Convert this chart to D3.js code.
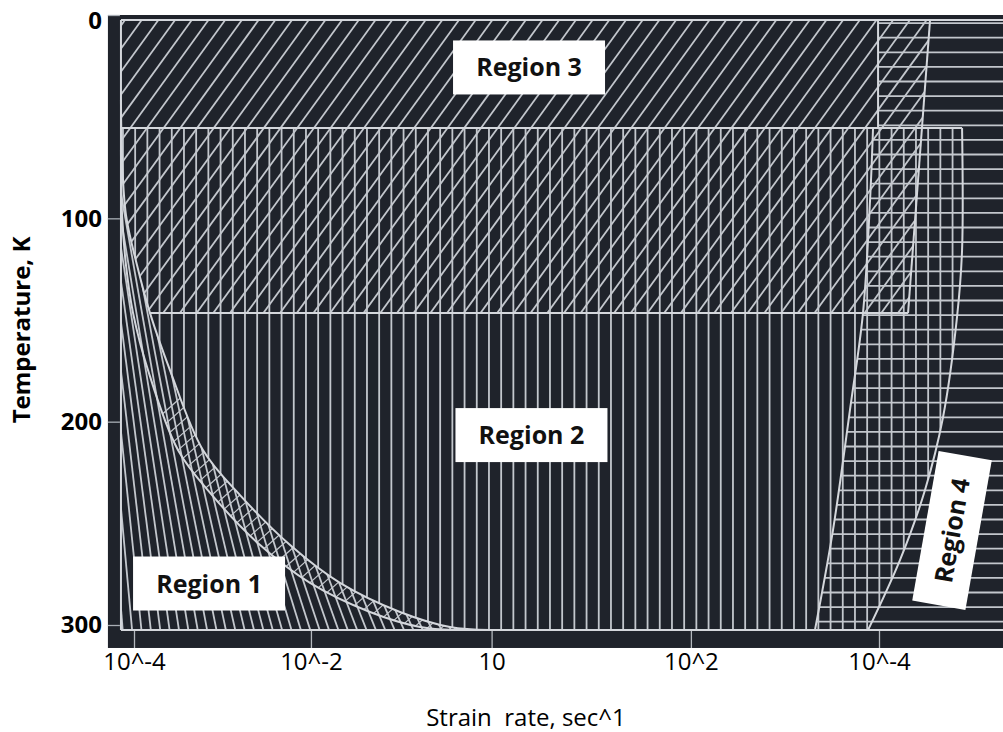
<!DOCTYPE html>
<html>
<head>
<meta charset="utf-8">
<script src="https://cdn.jsdelivr.net/npm/d3@7"></script>
<style>
  body { margin: 0; background: #fff; }
  svg { display: block; }
</style>
</head>
<body>
<svg width="1003" height="732"></svg>
<script>
"use strict";

// axis ticks (x is in "decade" units, labels are as printed)
const tempTicks = [0, 100, 200, 300];
const rateTicks = [0, 0.95, 1.92, 2.99, 4];
const rateLabels = ["10^-4", "10^-2", "10", "10^2", "10^-4"];

// boundaries, [rate, temperature]
const curveA = [[-0.07, 41.8], [-0.064, 71.3], [-0.043, 98.4], [0.016, 123], [0.086, 146.6],
    [0.193, 174.6], [0.37, 213.9], [0.569, 236.1], [0.838, 260.7], [1.106, 279.3],
    [1.428, 293.6], [1.697, 301], [1.911, 302.5]];
const curveB = [[-0.07, 66.4], [-0.064, 98.4], [-0.043, 123], [-0.005, 146.6], [0.075, 174.6],
    [0.236, 213.9], [0.419, 236.1], [0.677, 260.7], [0.945, 279.3], [1.267, 293.6],
    [1.536, 301], [1.723, 302.5]];
const rightCurve = [[4.446, 55.6], [4.446, 115.6], [4.419, 148.5], [4.344, 197.7],
    [4.247, 233.6], [4.113, 268], [3.941, 302.5]];
const leftCurve = [[3.656, 302.5], [3.753, 253.3], [3.844, 194.3], [3.914, 146.6],
    [3.952, 91], [3.968, 55.6]];
const region3Edge = [[4.274, 2.5], [4.156, 146.6]];
const bandTemps = [2.5, 55.6, 146.6, 302.5];   // top frame, upper line, lower line, bottom frame
const region4Top = 3.995;
const fanOrigin = [-0.39, -79];

const regionLabels = [
    {name: "Region 3", u: 2.121, t: 25.8, angle: 0},
    {name: "Region 2", u: 2.134, t: 206.6, angle: 0},
    {name: "Region 1", u: 0.403, t: 279.6, angle: 0},
    {name: "Region 4", u: 4.392, t: 253.5, angle: -80}
];

window.addEventListener("load", draw);

function draw() {
    const svg = d3.select("svg");
    const x = d3.scaleLinear().domain([0, 4]).range([134, 879]);
    const y = d3.scaleLinear().domain([0, 300]).range([15, 625]);

    const u0 = -0.07, u1 = 4.666;
    const [tTop, tMid1, tMid2, tBot] = bandTemps;
    const lineCol = "#c3c7cd";

    // dark plot area
    svg.append("rect")
        .attr("x", x(-0.14)).attr("y", y(0))
        .attr("width", x(u1) - x(-0.14)).attr("height", y(311.3) - y(0))
        .attr("fill", "#1f232b");

    const smooth = d3.line().x(d => x(d[0])).y(d => y(d[1])).curve(d3.curveCatmullRom.alpha(0.5));
    const straight = d3.line().x(d => x(d[0])).y(d => y(d[1]));
    const joinPath = parts => parts.map((p, i) => i ? p.replace(/^M/, "L") : p).join("") + "Z";

    const polys = {
        r1: joinPath([smooth(curveA), straight([[1.911, tBot], [u0, tBot]])]),
        band: joinPath([smooth(curveA), smooth(curveB.slice().reverse())]),
        r2: joinPath([straight([[u0, tMid1], rightCurve[0]]), smooth(rightCurve),
            smooth(curveA.slice(1).reverse())]),
        r3: joinPath([straight([[u0, tTop], region3Edge[0], region3Edge[1], [0.086, tMid2]]),
            smooth(curveA.slice(0, 5).reverse())]),
        r4: joinPath([smooth(leftCurve), straight([[3.968, tMid1], [region4Top, tMid1],
            [region4Top, tTop], [u1, tTop], [u1, tBot]])])
    };

    const defs = svg.append("defs");
    Object.entries(polys).forEach(([id, d]) => {
        defs.append("clipPath").attr("id", "clip-" + id).append("path").attr("d", d);
    });

    const X0 = x(u0), X1 = x(u1), Y0 = y(tTop), Y1 = y(tBot), H = Y1 - Y0;

    function hatch(id, segs, width) {
        svg.append("g")
            .attr("clip-path", `url(#clip-${id})`)
            .selectAll("line")
            .data(segs)
            .join("line")
                .attr("x1", d => d[0]).attr("y1", d => d[1])
                .attr("x2", d => d[2]).attr("y2", d => d[3])
                .attr("stroke", lineCol)
                .attr("stroke-width", width || 1.8);
    }

    // region 3: "/" diagonals
    const run = H / 1.38;
    hatch("r3", d3.range(X0 - run + 4, X1 + 20, 16.7).map(a => [a, Y1, a + run, Y0]));
    // region 2: verticals
    hatch("r2", d3.range(X0 + 2, X1, 12.2).map(a => [a, Y0, a, Y1]));
    // region 4: horizontals
    hatch("r4", d3.range(Y0 + 3, Y1, 14.6).map(b => [X0, b, X1, b]));
    // region 1: fan of lines
    const fx = x(fanOrigin[0]), fy = y(fanOrigin[1]);
    hatch("r1", d3.range(95, 560, 9.5).map(a => [fx, fy, a, Y1 + 10]));
    // sparse cross hatch inside the curved band
    hatch("band", d3.range(X0 - 200, 520, 14).map(a => [a, Y1, a + 380, Y1 - 340]), 1.2);

    // outlines
    const outlines = [
        straight([[u0, tTop], [u1, tTop]]),
        straight([[u0, tTop], [u0, tBot]]),
        straight([[u0, tBot], [u1, tBot]]),
        straight([[u0, tMid1], rightCurve[0]]),
        straight([[0.086, tMid2], region3Edge[1]]),
        straight(region3Edge),
        straight([[region4Top, tTop], [region4Top, tMid1], [3.968, tMid1]]),
        smooth(leftCurve),
        smooth(rightCurve),
        smooth(curveA),
        smooth(curveB)
    ];
    svg.append("g").selectAll("path")
        .data(outlines)
        .join("path")
            .attr("d", d => d)
            .attr("fill", "none")
            .attr("stroke", "#d4d7dc")
            .attr("stroke-width", 2);

    // axes
    const yAxis = svg.append("g")
        .attr("transform", `translate(${x(-0.14)},0)`)
        .call(d3.axisLeft(y).tickValues(tempTicks).tickSizeInner(-12).tickSizeOuter(0).tickPadding(6));
    yAxis.select(".domain").remove();
    yAxis.selectAll(".tick line").attr("stroke", "#a9aeb5").attr("stroke-width", 1.3);
    yAxis.selectAll("text")
        .attr("font-family", "'Open Sans', sans-serif")
        .attr("font-weight", 700).attr("font-size", 24).attr("fill", "#000");
    yAxis.selectAll(".tick text").filter(d => d === 0).attr("dy", "0.58em");

    const xAxis = svg.append("g")
        .attr("transform", `translate(0,${y(311.3)})`)
        .call(d3.axisBottom(x).tickValues(rateTicks).tickFormat((d, i) => rateLabels[i])
            .tickSizeInner(-17).tickSizeOuter(0).tickPadding(5));
    xAxis.select(".domain").remove();
    xAxis.selectAll(".tick line").attr("stroke", "#b3b8be").attr("stroke-width", 1.3);
    xAxis.selectAll("text")
        .attr("font-family", "'Open Sans', sans-serif")
        .attr("font-size", 24).attr("fill", "#000");

    svg.append("text")
        .attr("x", 526).attr("y", 726)
        .attr("text-anchor", "middle")
        .attr("font-family", "'Open Sans', sans-serif")
        .attr("font-size", 24)
        .style("white-space", "pre")
        .text("Strain  rate, sec^1");

    svg.append("text")
        .attr("transform", "translate(30,330) rotate(-90)")
        .attr("text-anchor", "middle")
        .attr("font-family", "'Open Sans', sans-serif")
        .attr("font-weight", 700)
        .attr("font-size", 24)
        .text("Temperature, K");

    // region labels on white boxes
    const lab = svg.append("g").selectAll("g")
        .data(regionLabels)
        .join("g")
            .attr("transform", d => `translate(${x(d.u)},${y(d.t)}) rotate(${d.angle})`);
    lab.append("rect")
        .attr("x", -76).attr("y", -27).attr("width", 152).attr("height", 54)
        .attr("fill", "#fff");
    lab.append("text")
        .attr("text-anchor", "middle")
        .attr("dy", "0.36em")
        .attr("font-family", "'Open Sans', sans-serif")
        .attr("font-weight", 700)
        .attr("font-size", 25)
        .attr("fill", "#111")
        .text(d => d.name);
}
</script>
</body>
</html>
